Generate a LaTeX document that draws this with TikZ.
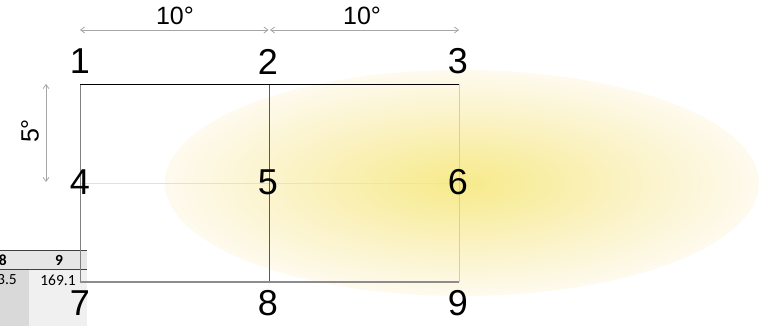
\documentclass[tikz,border=0pt]{standalone}
\usepackage{fontspec}
\setmainfont{Liberation Sans}
\newfontfamily\tabfont{Carlito}
\usetikzlibrary{arrows.meta}
\definecolor{glowA}{HTML}{F7EA8C}
\definecolor{glowB}{HTML}{F8ED9E}
\definecolor{glowC}{HTML}{FAF1BC}
\definecolor{glowD}{HTML}{FCF6D8}
\definecolor{glowE}{HTML}{FEFAEE}
\definecolor{dimgrey}{HTML}{A6A6A6}
\definecolor{hdrbg}{HTML}{E6E6E6}
\definecolor{colA}{HTML}{D9D9D9}
\definecolor{colB}{HTML}{F0F0F0}
\pgfdeclareradialshading{glowshade}{\pgfpoint{0bp}{0bp}}{color(0bp)=(glowA); color(5bp)=(glowB); color(12bp)=(glowC); color(19bp)=(glowD); color(25bp)=(glowE); color(50bp)=(white)}
\tikzset{
  biglabel/.style={inner sep=0pt, anchor=center, font=\fontsize{36}{40}\selectfont},
  deglabel/.style={inner sep=0pt, anchor=center, font=\fontsize{25}{28}\selectfont},
  dimarrow/.style={draw=dimgrey, line width=0.8pt, {Straight Barb[length=4pt,width=6pt]}-{Straight Barb[length=4pt,width=6pt]}},
  tabtext/.style={inner sep=0pt, font=\tabfont\fontsize{15.5}{18}\selectfont},
  tabhead/.style={inner sep=0pt, font=\tabfont\bfseries\fontsize{15.5}{18}\selectfont},
}
\begin{document}
\begin{tikzpicture}[x=1pt,y=-1pt]
\useasboundingbox (0,0) rectangle (763,326);
% table fragment
\fill[hdrbg] (0,250) rectangle (87,269);
\fill[colA] (0,269) rectangle (29,326);
\fill[colB] (29,269) rectangle (87,326);
\draw[black!75, line width=1pt] (0,250) -- (87,250);
\draw[black!75, line width=1pt] (0,269) -- (87,269);
\node[tabhead, anchor=east] (h8) at (7,260) {8};
\node[tabhead] (h9) at (59,260) {9};
\node[tabtext, anchor=east] (v8) at (17,280) {3.5};
\node[tabtext] (v9) at (58,280) {169.1};
% glow
\shade[shading=glowshade] (462,183) ellipse [x radius=297pt, y radius=113pt];
% grid coordinates
\coordinate (c1) at (80,84);  \coordinate (c2) at (269,84);  \coordinate (c3) at (459,84);
\coordinate (c4) at (80,183); \coordinate (c5) at (269,183); \coordinate (c6) at (459,183);
\coordinate (c7) at (80,282); \coordinate (c8) at (269,282); \coordinate (c9) at (459,282);
\draw[black!12, line width=0.8pt] (c4) -- (c6);
\draw[black!20, line width=0.8pt] (c3) -- (c9);
\draw[black!50, line width=0.8pt] (c1) -- (c7);
\draw[black!65, line width=0.9pt] (c2) -- (c8);
\draw[black!45, line width=1.5pt] (c7) -- (c9);
\draw[black, line width=0.8pt] (c1) -- (c3);
% labels
\node[biglabel] (n1) at (80,61.5) {1};
\node[biglabel] (n2) at (268,61.5) {2};
\node[biglabel] (n3) at (458,61.5) {3};
\node[biglabel] (n4) at (80,182.5) {4};
\node[biglabel] (n5) at (268,182.5) {5};
\node[biglabel] (n6) at (458,182.5) {6};
\node[biglabel] (n7) at (80,303.5) {7};
\node[biglabel] (n8) at (268,303.5) {8};
\node[biglabel] (n9) at (458,303.5) {9};
% dimension arrows
\coordinate (a1) at (80,30); \coordinate (a2) at (268.5,30); \coordinate (a3) at (459,30);
\coordinate (a2b) at (270,30);
\draw[dimarrow] (a1) -- (a2);
\draw[dimarrow] (a2b) -- (a3);
\coordinate (v1) at (46,84); \coordinate (v2) at (46,182);
\draw[dimarrow] (v1) -- (v2);
\node[deglabel] (d1) at (175,16) {10°};
\node[deglabel] (d2) at (362,16) {10°};
\node[deglabel, rotate=90] (d3) at (30,131) {5°};
\end{tikzpicture}
\end{document}
